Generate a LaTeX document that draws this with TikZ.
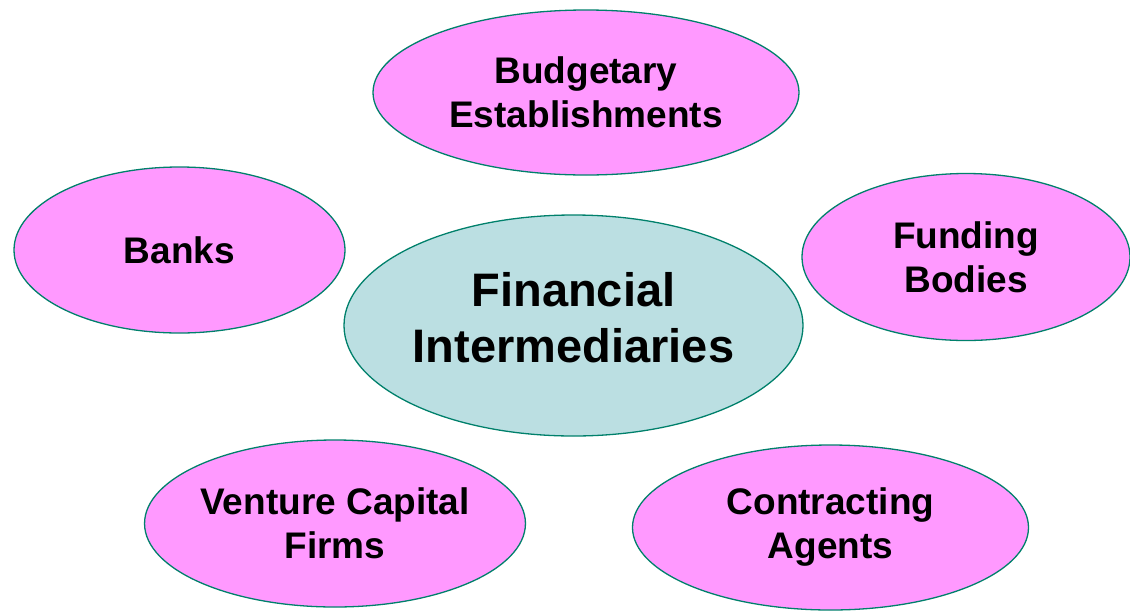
\documentclass[tikz,border=0pt]{standalone}
\usepackage{fontspec}
\setmainfont{Liberation Sans}
\usepackage{tikz}
\usetikzlibrary{shapes.geometric}
\definecolor{pinkfill}{HTML}{FF99FF}
\definecolor{tealfill}{HTML}{BBDFE2}
\definecolor{rimline}{HTML}{00806B}
\tikzstyle{bubble} = [draw=rimline, line width=1.3pt, ellipse, fill=pinkfill, inner sep=0pt, align=center, font=\fontsize{37}{44}\selectfont\bfseries]
\tikzstyle{hub} = [bubble, fill=tealfill, text depth=16pt, font=\fontsize{47}{56}\selectfont\bfseries]

\begin{document}
\begin{tikzpicture}[x=1pt, y=-1pt]
    \useasboundingbox (0,0) rectangle (1130,611);
    % We start by placing the hub
    \node [hub, minimum width=459pt, minimum height=221pt] (fin) at (573.5,325.5) {Financial\\Intermediaries};

    % Then the surrounding bubbles
    \node [bubble, minimum width=426pt, minimum height=165pt] (budget) at (586,92.5) {Budgetary\\Establishments};
    \node [bubble, minimum width=331pt, minimum height=166pt] (banks) at (179.5,250) {Banks};
    \node [bubble, minimum width=328pt, minimum height=167pt] (funding) at (966,257) {Funding\\Bodies};
    \node [bubble, minimum width=380pt, minimum height=167pt] (venture) at (335,523.5) {Venture Capital\\Firms};
    \node [bubble, minimum width=396pt, minimum height=165pt] (agents) at (830.5,527.5) {Contracting\\Agents};
\end{tikzpicture}
\end{document}
